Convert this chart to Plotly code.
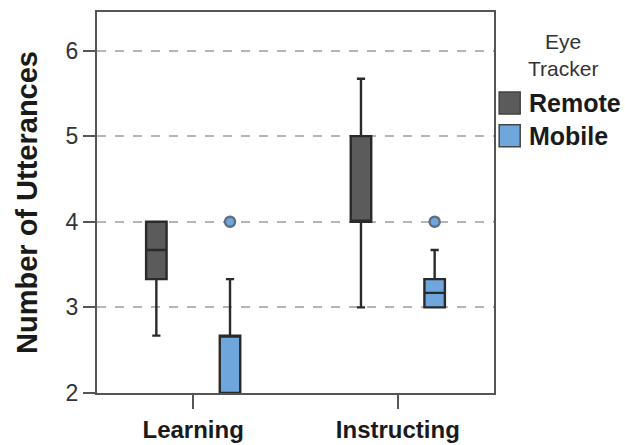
import numpy as np
import plotly.graph_objects as go

# Categories and summary statistics (number of utterances)
categories = ["Learning", "Instructing"]
series = ["Remote", "Mobile"]

remote_low = [2.67, 3.0]
remote_q1 = [3.33, 4.0]
remote_median = [3.67, 4.0]
remote_q3 = [4.0, 5.0]
remote_high = [4.0, 5.67]

mobile_low = [2.0, 3.0]
mobile_q1 = [2.0, 3.0]
mobile_median = [2.67, 3.17]
mobile_q3 = [2.67, 3.33]
mobile_high = [3.33, 3.67]
mobile_outliers = [4.0, 4.0]

y_ticks = [2, 3, 4, 5, 6]

FONT = "Liberation Sans, Arial, sans-serif"
REMOTE_FILL = "#5b5b5b"
MOBILE_FILL = "#6fa7dd"
EDGE = "#2a2a2a"

base = np.arange(len(categories), dtype=float)
offset = 0.18

fig = go.Figure()

fig.add_trace(go.Box(
    name=series[0], x=base - offset,
    q1=remote_q1, median=remote_median, q3=remote_q3,
    lowerfence=remote_low, upperfence=remote_high,
    width=0.1, whiskerwidth=0.4,
    fillcolor=REMOTE_FILL, line=dict(color=EDGE, width=2.4),
    showlegend=False,
))
fig.add_trace(go.Box(
    name=series[1], x=base + offset,
    q1=mobile_q1, median=mobile_median, q3=mobile_q3,
    lowerfence=mobile_low, upperfence=mobile_high,
    width=0.1, whiskerwidth=0.4,
    fillcolor=MOBILE_FILL, line=dict(color=EDGE, width=2.4),
    showlegend=False,
))
fig.add_trace(go.Scatter(
    x=base + offset, y=mobile_outliers, mode="markers",
    marker=dict(symbol="circle", size=10, color=MOBILE_FILL,
                line=dict(color="#5f6f80", width=2.5)),
    showlegend=False, hoverinfo="y",
))

# Legend drawn by hand to the right of the plot so the swatches are large squares
legend_items = [(series[0], REMOTE_FILL, 0.761), (series[1], MOBILE_FILL, 0.675)]
shapes = []
annotations = [dict(
    x=1.174, y=0.887, xref="paper", yref="paper", xanchor="center", yanchor="middle",
    text="Eye<br>Tracker", showarrow=False, align="center",
    font=dict(family=FONT, size=21, color="#333"),
)]
for label, color, yc in legend_items:
    shapes.append(dict(
        type="rect", xref="paper", yref="paper",
        x0=1.013, x1=1.066, y0=yc - 0.029, y1=yc + 0.029,
        fillcolor=color, line=dict(color="#444", width=1.5),
    ))
    annotations.append(dict(
        x=1.082, y=yc, xref="paper", yref="paper", xanchor="left", yanchor="middle",
        text=f"<b>{label}</b>", showarrow=False,
        font=dict(family=FONT, size=25, color="#1a1a1a"),
    ))

fig.update_layout(
    width=625, height=445,
    margin=dict(l=97, r=131, t=12, b=52),
    paper_bgcolor="white", plot_bgcolor="white",
    shapes=shapes, annotations=annotations,
    font=dict(family=FONT, color="#222"),
)
fig.update_xaxes(
    range=[-0.47, 1.47], automargin=False,
    tickvals=base, ticktext=[f"<b>{c}</b>" for c in categories],
    ticks="outside", ticklen=14, tickwidth=2, tickcolor="#555",
    showline=True, linecolor="#555", linewidth=2, mirror=True,
    showgrid=False, zeroline=False,
    tickfont=dict(family=FONT, size=24, color="#1a1a1a"),
)
fig.update_yaxes(
    range=[2, 6.45], automargin=False,
    tickvals=y_ticks,
    ticks="outside", ticklen=12, tickwidth=2, tickcolor="#555",
    showline=True, linecolor="#555", linewidth=2, mirror=True,
    showgrid=True, gridcolor="#b5b5b5", griddash="dash", gridwidth=1.5,
    zeroline=False,
    tickfont=dict(family=FONT, size=23, color="#333"),
    title=dict(text="<b>Number of Utterances</b>", standoff=19,
               font=dict(family=FONT, size=29, color="#1a1a1a")),
)

fig.write_html("out.html")
